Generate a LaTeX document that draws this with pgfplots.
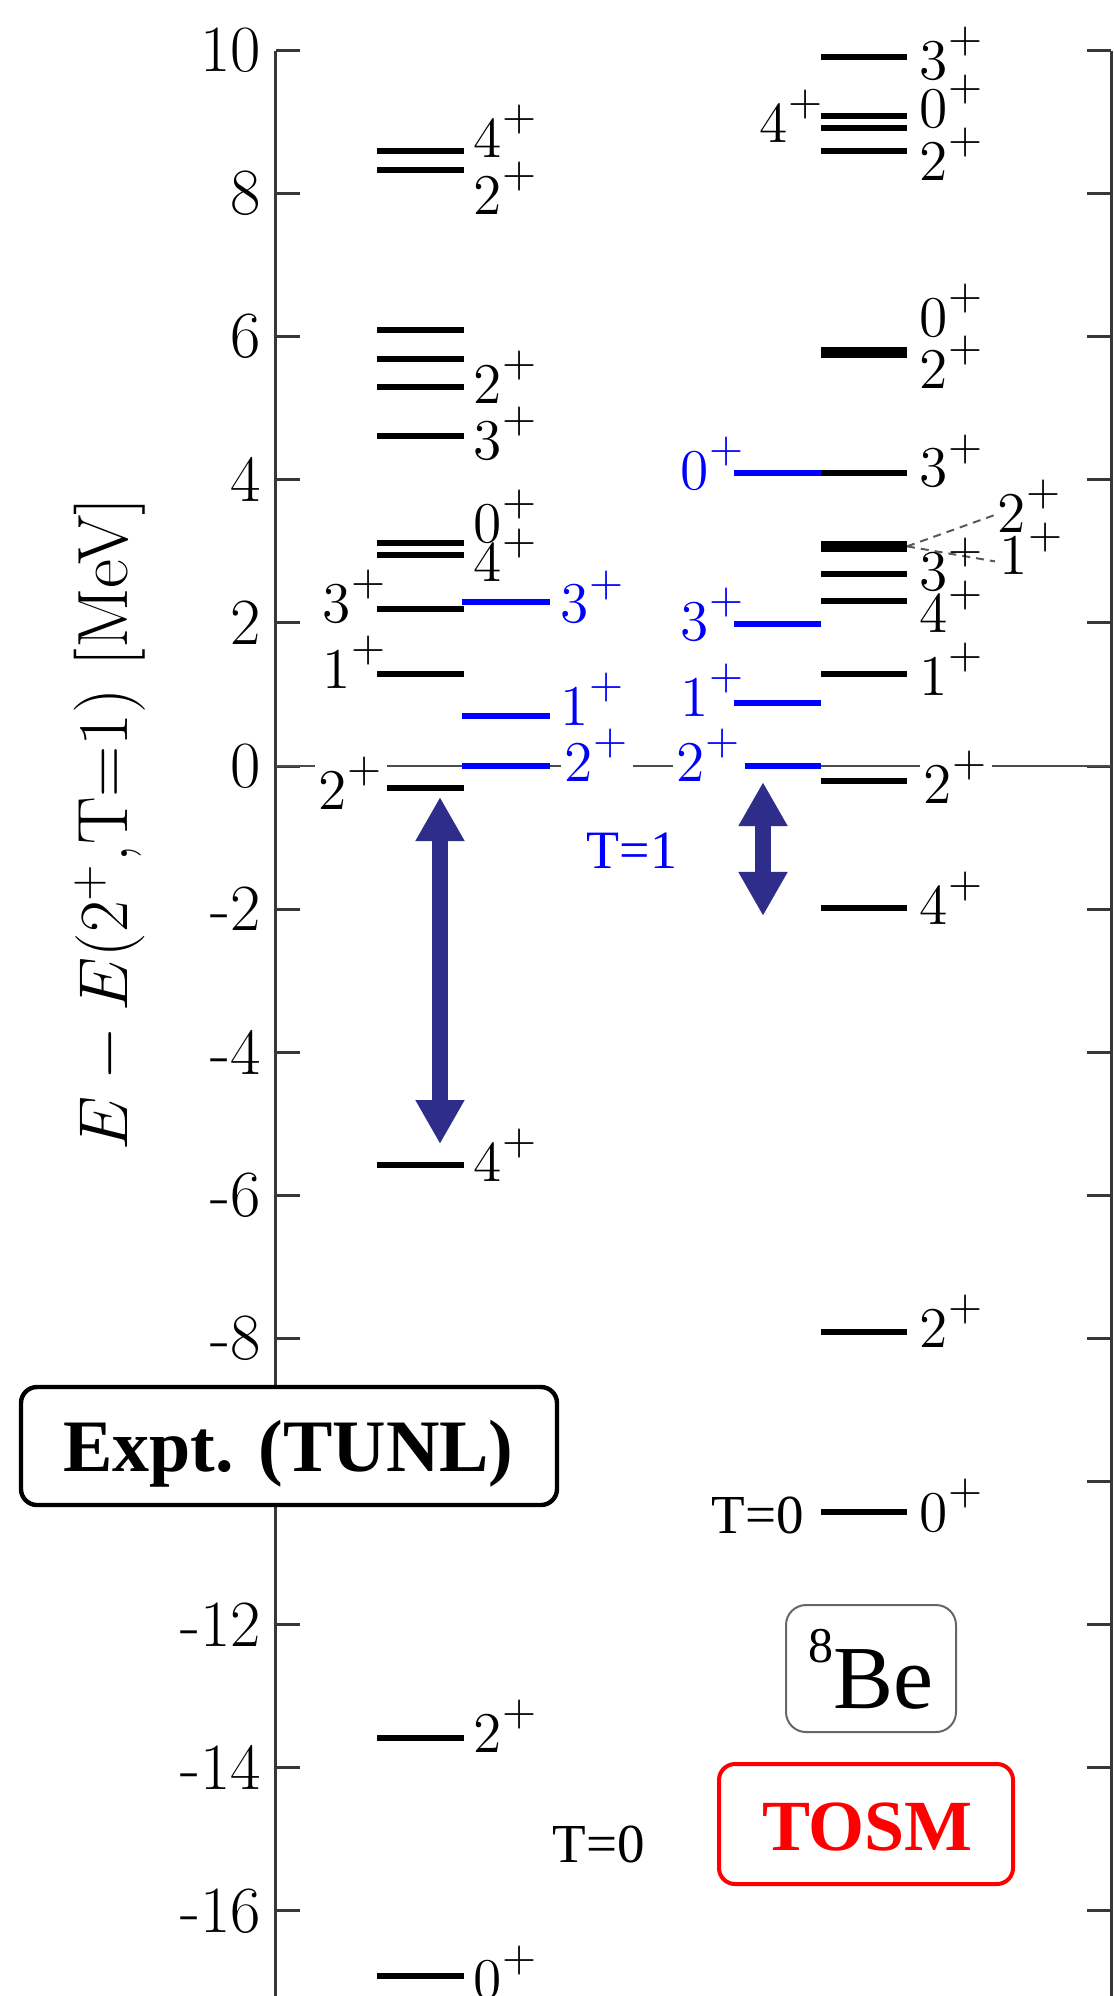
\documentclass[border=0pt]{standalone}
\usepackage{fontspec}
\usepackage{pgfplots}
\pgfplotsset{compat=1.18}
\usetikzlibrary{arrows.meta}
\newfontfamily\timesf{Liberation Serif}
\definecolor{navy}{RGB}{46,46,138}
\definecolor{axgray}{RGB}{55,55,55}
\newcommand{\lfont}{\fontsize{15}{18}\selectfont}
\newcommand{\jp}[1]{$#1^{\raisebox{0.1em}{$\scriptstyle\mathbf{+}$}}$}
\newcommand{\lvl}[4][black]{\addplot[#1, line width=1.5pt] coordinates {(#2,#4) (#3,#4)};}
\begin{document}
\begin{tikzpicture}[
  R/.style={anchor=base west, inner sep=0pt, font=\lfont},
  L/.style={anchor=base east, inner sep=0pt, font=\lfont},
  Z/.style={fill=white, inner xsep=1pt}]
\begin{axis}[
  x=0.25pt, y=17.8875pt,
  xmin=276, xmax=1111, ymin=-17.19, ymax=10,
  hide x axis,
  axis line style={axgray, line width=0.75pt},
  tick style={axgray, line width=0.75pt},
  major tick length=6pt,
  ytick={-16,-14,-12,-10,-8,-6,-4,-2,0,2,4,6,8,10},
  yticklabels={-16,-14,-12,-10,-8,-6,-4,-2,0,2,4,6,8,10},
  yticklabel style={font=\fontsize{16.5}{19}\selectfont, inner sep=3.5pt},
  yticklabel pos=left,
  clip=false,
]
\coordinate (bbA) at (axis cs:0,10.706);
\coordinate (bbB) at (axis cs:1113,-17.19);
% zero reference line
\addplot[gray!60!black, line width=0.5pt] coordinates {(276,0) (1111,0)};
% Expt, T=0 (black)
\lvl{377}{464}{8.59}
\lvl{377}{464}{8.33}
\lvl{377}{464}{6.09}
\lvl{377}{464}{5.69}
\lvl{377}{464}{5.30}
\lvl{377}{464}{4.61}
\lvl{377}{464}{3.11}
\lvl{377}{464}{2.95}
\lvl{377}{464}{2.20}
\lvl{377}{464}{1.29}
\lvl{377}{464}{-0.31}
\lvl{377}{464}{-5.57}
\lvl{377}{464}{-13.58}
\lvl{377}{464}{-16.91}
% Expt, T=1 (blue)
\lvl[blue]{462}{550}{2.29}
\lvl[blue]{462}{550}{0.70}
\lvl[blue]{462}{550}{0}
% TOSM, T=1 (blue)
\lvl[blue]{734}{821}{4.09}
\lvl[blue]{734}{821}{1.99}
\lvl[blue]{734}{821}{0.88}
\lvl[blue]{734}{821}{0}
% TOSM, T=0 (black)
\lvl{821}{907}{9.91}
\lvl{821}{907}{9.08}
\lvl{821}{907}{8.92}
\lvl{821}{907}{8.60}
\lvl{821}{907}{5.81}
\lvl{821}{907}{5.74}
\lvl{821}{907}{4.09}
\lvl{821}{907}{3.10}
\lvl{821}{907}{3.04}
\lvl{821}{907}{2.69}
\lvl{821}{907}{2.30}
\lvl{821}{907}{1.29}
\lvl{821}{907}{-0.21}
\lvl{821}{907}{-1.99}
\lvl{821}{907}{-7.91}
\lvl{821}{907}{-10.42}
% dashed connectors
\addplot[gray!70!black, line width=0.5pt, dash pattern=on 2pt off 1.5pt] coordinates {(907,3.07) (995,3.51)};
\addplot[gray!70!black, line width=0.5pt, dash pattern=on 2pt off 1.5pt] coordinates {(907,3.07) (995,2.86)};
% arrows
\addplot[navy, line width=4pt, {Triangle[width=11.5pt,length=11pt]}-{Triangle[width=11.5pt,length=11pt]}] coordinates {(440,-0.433) (440,-5.283)};
\addplot[navy, line width=4pt, {Triangle[width=11.5pt,length=11pt]}-{Triangle[width=11.5pt,length=11pt]}] coordinates {(763,-0.224) (763,-2.096)};
% Expt labels
\node[R] at (axis cs:473,8.50) {\jp{4}};
\node[R] at (axis cs:473,7.71) {\jp{2}};
\node[R] at (axis cs:473,5.07) {\jp{2}};
\node[R] at (axis cs:473,4.29) {\jp{3}};
\node[R] at (axis cs:473,3.13) {\jp{0}};
\node[R] at (axis cs:473,2.58) {\jp{4}};
\node[R] at (axis cs:473,-5.80) {\jp{4}};
\node[R] at (axis cs:473,-13.79) {\jp{2}};
\node[R] at (axis cs:473,-17.22) {\jp{0}};
\node[L] at (axis cs:388,2.01) {\jp{3}};
\node[L] at (axis cs:388,1.08) {\jp{1}};
\node[L,Z] at (axis cs:388,-0.61) {\jp{2}};
\node[R,blue] at (axis cs:560,2.00) {\jp{3}};
\node[R,blue] at (axis cs:560,0.57) {\jp{1}};
\node[R,blue,Z] at (axis cs:560,-0.22) {\jp{2}};
% TOSM labels
\node[L,blue] at (axis cs:746,3.86) {\jp{0}};
\node[L,blue] at (axis cs:746,1.76) {\jp{3}};
\node[L,blue] at (axis cs:746,0.69) {\jp{1}};
\node[L,blue,Z] at (axis cs:746,-0.22) {\jp{2}};
\node[L] at (axis cs:825,8.71) {\jp{4}};
\node[R] at (axis cs:919,9.60) {\jp{3}};
\node[R] at (axis cs:919,8.92) {\jp{0}};
\node[R] at (axis cs:919,8.18) {\jp{2}};
\node[R] at (axis cs:919,6.00) {\jp{0}};
\node[R] at (axis cs:919,5.28) {\jp{2}};
\node[R] at (axis cs:919,3.90) {\jp{3}};
\node[R] at (axis cs:919,2.46) {\jp{3}};
\node[R] at (axis cs:919,1.86) {\jp{4}};
\node[R] at (axis cs:919,0.98) {\jp{1}};
\node[R,Z] at (axis cs:919,-0.52) {\jp{2}};
\node[R] at (axis cs:919,-2.21) {\jp{4}};
\node[R] at (axis cs:919,-8.13) {\jp{2}};
\node[R] at (axis cs:919,-10.70) {\jp{0}};
\node[R] at (axis cs:997,3.27) {\jp{2}};
\node[R] at (axis cs:999,2.67) {\jp{1}};
% isospin texts
\node[anchor=base, inner sep=0pt, blue, font=\timesf\fontsize{13.5}{16}\selectfont] at (axis cs:632,-1.43) {T=1};
\node[anchor=base, inner sep=0pt, font=\timesf\fontsize{13.75}{16}\selectfont] at (axis cs:599,-15.33) {T=0};
\node[anchor=base, inner sep=0pt, font=\timesf\fontsize{13.75}{16}\selectfont] at (axis cs:757.5,-10.72) {T=0};
% y label
\node[rotate=90, anchor=base, inner sep=0pt, font=\fontsize{17.8}{21}\selectfont] at (axis cs:128,-0.81) {$E - E(2^{+}$,T=1) [MeV]};
% boxes
\draw[black, line width=1.1pt, fill=white, rounded corners=4pt] (axis cs:21,-8.679) rectangle (axis cs:557,-10.328);
\node[anchor=base, inner sep=0pt, font=\timesf\bfseries\fontsize{18.5}{22}\selectfont] at (axis cs:288.5,-9.863) {Expt. (TUNL)};
\draw[gray!80!black, line width=0.5pt, rounded corners=5pt] (axis cs:786,-11.726) rectangle (axis cs:956,-13.501);
\node[anchor=base, inner sep=0pt, font=\timesf\fontsize{22.5}{26}\selectfont] at (axis cs:870.5,-13.170) {\raisebox{11.5pt}{\fontsize{12.5}{14}\selectfont 8}Be};
\draw[red, line width=1pt, rounded corners=4pt] (axis cs:719,-13.948) rectangle (axis cs:1013,-15.625);
\node[anchor=base, inner sep=0pt, red, font=\timesf\bfseries\fontsize{18}{22}\selectfont] at (axis cs:867.5,-15.150) {TOSM};
\end{axis}
\pgfresetboundingbox
\path[use as bounding box] (bbA) rectangle (bbB);
\end{tikzpicture}
\end{document}
